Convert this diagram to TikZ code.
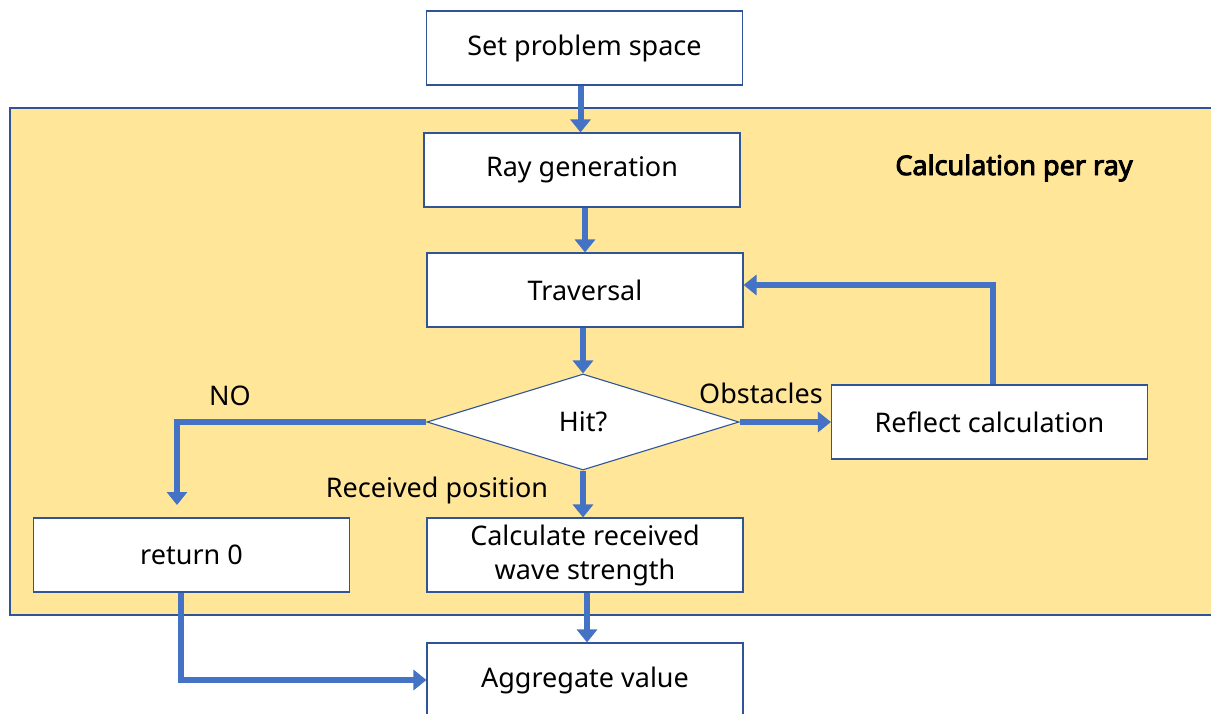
\documentclass[tikz,border=0pt]{standalone}
\usepackage{fontspec}
\setmainfont{Noto Sans}[AutoFakeBold=3.5]
\usetikzlibrary{shapes.geometric,arrows.meta,calc}
\definecolor{boxline}{HTML}{2F5597}
\definecolor{arrblue}{HTML}{4472C4}
\definecolor{panel}{HTML}{FFE699}
\tikzset{
  stepbox/.style={draw=boxline,line width=1.1pt,fill=white,minimum width=316pt,minimum height=74pt,inner sep=2pt,align=center,font=\fontsize{27}{34}\selectfont},
  hitbox/.style={diamond,draw=boxline,line width=1.1pt,fill=white,minimum width=312pt,minimum height=96pt,inner sep=0pt,font=\fontsize{27}{34}\selectfont},
  arr/.style={draw=arrblue,line width=6pt,-{Triangle[width=20pt,length=13pt]}},
  lbl/.style={font=\fontsize{27}{34}\selectfont,inner sep=0pt}
}
\begin{document}
\begin{tikzpicture}[x=1pt,y=-1pt]
\useasboundingbox (0,0) rectangle (1211,714);
\fill[white] (0,0) rectangle (1211,714);
\draw[draw=boxline,line width=1.1pt,fill=panel] (10,108) rectangle (1230,615);
\node[font=\bfseries\fontsize{27}{30}\selectfont,inner sep=0pt] (title) at (1014,168) {Calculation per ray};
\node[stepbox] (set) at (584.5,48) {Set problem space};
\node[stepbox] (ray) at (582,170) {Ray generation};
\node[stepbox] (trav) at (585,290) {Traversal};
\node[hitbox] (hit) at (583,422) {Hit?};
\node[stepbox] (refl) at (989.5,422) {Reflect calculation};
\node[stepbox] (ret) at (191.5,555) {return 0};
\node[stepbox,inner sep=0pt] (calc) at (585,555) {Calculate received\\wave strength};
\node[stepbox] (agg) at (585,680) {Aggregate value};
\node[lbl] (nolbl) at (230,396) {NO};
\node[lbl] (obslbl) at (761,393) {Obstacles};
\node[lbl] (reclbl) at (437,490) {Received position};
\coordinate (noend) at (177,505);
\draw[arr] ([xshift=-4pt]set.south) -- ([xshift=-4pt]set.south |- ray.north);
\draw[arr] ([xshift=3pt]ray.south) -- ([xshift=3pt]ray.south |- trav.north);
\draw[arr] ([xshift=-2pt]trav.south) -- ([xshift=-2pt]trav.south |- hit.north);
\draw[arr] (hit.west) -| (noend);
\draw[arr] (hit.east) -- (refl.west);
\draw[arr] ([xshift=3.5pt]refl.north) |- ([yshift=5pt]trav.east);
\draw[arr] (hit.south) -- (hit.south |- calc.north);
\draw[arr] ([xshift=2pt]calc.south) -- ([xshift=2pt]calc.south |- agg.north);
\draw[arr] ([xshift=-11pt]ret.south) |- (agg.west);
\end{tikzpicture}
\end{document}
